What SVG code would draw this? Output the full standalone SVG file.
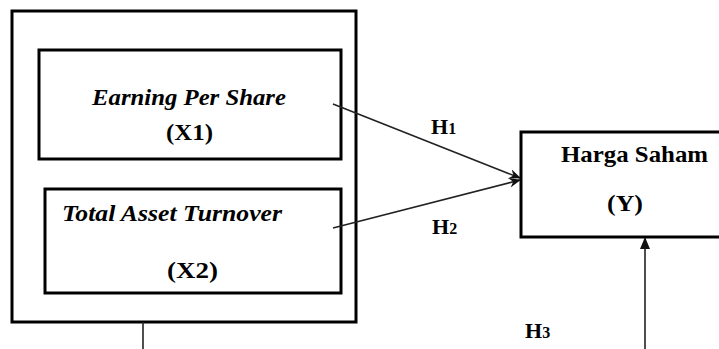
<svg xmlns="http://www.w3.org/2000/svg" width="719" height="349" viewBox="0 0 719 349">
<style>
.box{fill:none;stroke:#000;stroke-width:3}
.ln{fill:none;stroke:#222;stroke-width:1.6}
</style>
<defs>
<marker id="ah" viewBox="0 0 12 10" refX="11" refY="5" markerWidth="12" markerHeight="10" markerUnits="userSpaceOnUse" orient="auto">
<path d="M0,0 L12,5 L0,10 L4,5 Z" fill="#111"/>
</marker>
<marker id="ahv" viewBox="0 0 12 10" refX="11" refY="5" markerWidth="12" markerHeight="10" markerUnits="userSpaceOnUse" orient="auto">
<path d="M0,0 L12,5 L0,10 Z" fill="#111"/>
</marker>
</defs>
<rect width="719" height="349" fill="#fff"/>
<g id="outer">
<rect class="box" x="12" y="11" width="344" height="311"/>
</g>
<g id="x1" font-family="Liberation Serif, serif" font-weight="bold">
<rect class="box" x="39" y="50" width="302" height="109"/>
<text font-style="italic" x="92" y="105" font-size="24" textLength="194" lengthAdjust="spacingAndGlyphs">Earning Per Share</text>
<text x="166" y="140" font-size="24" textLength="47" lengthAdjust="spacingAndGlyphs">(X1)</text>
</g>
<g id="x2" font-family="Liberation Serif, serif" font-weight="bold">
<rect class="box" x="45" y="189" width="296" height="104"/>
<text font-style="italic" x="62" y="221" font-size="24" textLength="220" lengthAdjust="spacingAndGlyphs">Total Asset Turnover</text>
<text x="167" y="278" font-size="24" textLength="51" lengthAdjust="spacingAndGlyphs">(X2)</text>
</g>
<g id="y" font-family="Liberation Serif, serif" font-weight="bold">
<rect class="box" x="521" y="132" width="210" height="105"/>
<text x="561" y="162" font-size="24" textLength="147" lengthAdjust="spacingAndGlyphs">Harga Saham</text>
<text x="607" y="211" font-size="24" textLength="36" lengthAdjust="spacingAndGlyphs">(Y)</text>
</g>
<g id="connectors">
<line class="ln" x1="333" y1="104" x2="520" y2="178" marker-end="url(#ah)"/>
<line class="ln" x1="333" y1="228" x2="520" y2="180" marker-end="url(#ah)"/>
<line class="ln" x1="645" y1="349" x2="645" y2="238" marker-end="url(#ahv)"/>
<line class="ln" x1="143" y1="322" x2="143" y2="349"/>
</g>
<g id="labels" font-family="Liberation Serif, serif" font-weight="bold">
<text x="431" y="134" font-size="22">H<tspan font-size="16">1</tspan></text>
<text x="432" y="234" font-size="22">H<tspan font-size="16">2</tspan></text>
<text x="525" y="338" font-size="22">H<tspan font-size="16">3</tspan></text>
</g>
</svg>
